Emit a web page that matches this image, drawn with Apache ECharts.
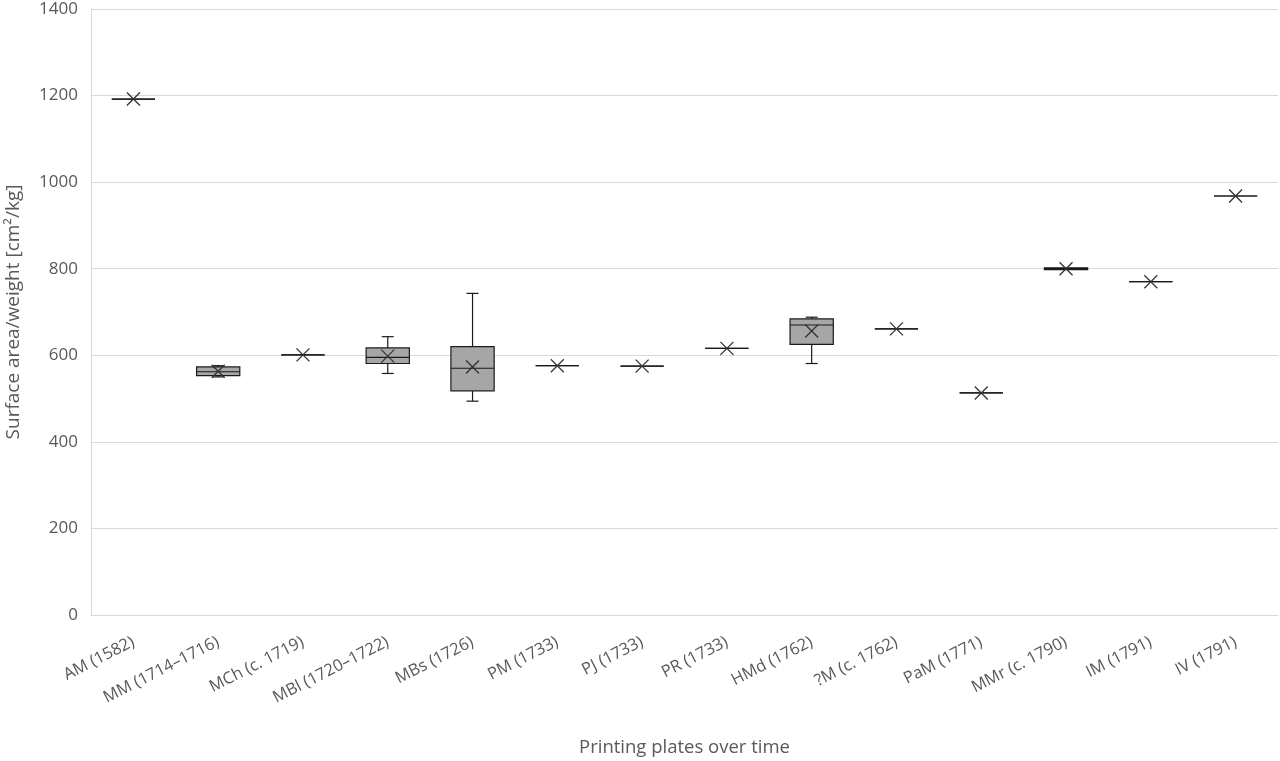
<!DOCTYPE html>
<html>
<head>
<meta charset="utf-8">
<script src="https://cdn.jsdelivr.net/npm/echarts@6/dist/echarts.min.js"></script>
<style>html,body{margin:0;padding:0;background:#fff}#c{width:1280px;height:761px}</style>
</head>
<body>
<div id="c"></div>
<script>
const categories = ['AM (1582)','MM (1714–1716)','MCh (c. 1719)','MBl (1720–1722)','MBs (1726)','PM (1733)','PJ (1733)','PR (1733)','HMd (1762)','?M (c. 1762)','PaM (1771)','MMr (c. 1790)','IM (1791)','IV (1791)'];
const mins    = [1192, 550, 601, 558, 494, 576, 575, 616, 581, 661, 513, 798, 770, 968];
const q1s     = [1192, 553, 601, 581, 518, 576, 575, 616, 625, 661, 513, 798, 770, 968];
const medians = [1192, 562, 601, 595, 570, 576, 575, 616, 670, 661, 513, 800, 770, 968];
const q3s     = [1192, 573, 601, 617, 620, 576, 575, 616, 684, 661, 513, 802, 770, 968];
const maxs    = [1192, 576, 601, 643, 743, 576, 575, 616, 688, 661, 513, 802, 770, 968];
const means   = [1192, 563, 601, 598, 573, 576, 575, 616, 656, 661, 513, 800, 770, 968];
const yTicks  = {min: 0, max: 1400, interval: 200};

const data = categories.map((c, i) => [i, mins[i], q1s[i], medians[i], q3s[i], maxs[i], means[i]]);
const font = '"Open Sans", "Liberation Sans", sans-serif';
const textColor = '#595959';

function renderItem(params, api) {
  const idx = api.value(0);
  const bw = api.size([1, 0])[0] * 0.51;
  const half = bw / 2;
  const cap = 6;
  const p = k => api.coord([idx, api.value(k)]);
  const pMin = p(1), pQ1 = p(2), pMed = p(3), pQ3 = p(4), pMax = p(5), pMean = p(6);
  const x = pMed[0];
  const lineStyle = {stroke: '#1a1a1a', lineWidth: 1.2};
  const children = [];
  if (pMax[1] < pQ3[1] - 0.5) {
    children.push({type: 'line', shape: {x1: x, y1: pQ3[1], x2: x, y2: pMax[1]}, style: lineStyle});
    children.push({type: 'line', shape: {x1: x - cap, y1: pMax[1], x2: x + cap, y2: pMax[1]}, style: lineStyle});
  }
  if (pMin[1] > pQ1[1] + 0.5) {
    children.push({type: 'line', shape: {x1: x, y1: pQ1[1], x2: x, y2: pMin[1]}, style: lineStyle});
    children.push({type: 'line', shape: {x1: x - cap, y1: pMin[1], x2: x + cap, y2: pMin[1]}, style: lineStyle});
  }
  children.push({type: 'rect', shape: {x: x - half, y: pQ3[1], width: bw, height: Math.max(0, pQ1[1] - pQ3[1])},
    style: {fill: '#a6a6a6', stroke: '#1a1a1a', lineWidth: 1.2}});
  children.push({type: 'line', shape: {x1: x - half, y1: pMed[1], x2: x + half, y2: pMed[1]}, style: lineStyle});
  const s = 6.5;
  const xs = {stroke: '#333333', lineWidth: 1.3};
  children.push({type: 'line', shape: {x1: x - s, y1: pMean[1] - s, x2: x + s, y2: pMean[1] + s}, style: xs});
  children.push({type: 'line', shape: {x1: x - s, y1: pMean[1] + s, x2: x + s, y2: pMean[1] - s}, style: xs});
  return {type: 'group', children};
}

const chart = echarts.init(document.getElementById('c'), null, {renderer: 'canvas'});
chart.setOption({
  animation: false,
  backgroundColor: '#ffffff',
  grid: {left: 91, right: 2, top: 9, bottom: 146, outerBoundsMode: 'none', containLabel: false},
  xAxis: {
    type: 'category',
    data: categories,
    name: 'Printing plates over time',
    nameLocation: 'middle',
    nameGap: 123,
    nameTextStyle: {color: textColor, fontSize: 18.5, fontFamily: font},
    axisLine: {show: true, lineStyle: {color: '#d9d9d9'}},
    axisTick: {show: false},
    axisLabel: {rotate: 27, color: textColor, fontSize: 16.5, fontFamily: font, margin: 26, interval: 0},
    splitLine: {show: false}
  },
  yAxis: {
    type: 'value',
    min: yTicks.min, max: yTicks.max, interval: yTicks.interval,
    name: 'Surface area/weight [cm²/kg]',
    nameLocation: 'middle',
    nameGap: 68,
    nameTextStyle: {color: textColor, fontSize: 19, fontFamily: font},
    axisLine: {show: true, lineStyle: {color: '#d9d9d9'}},
    axisTick: {show: false},
    axisLabel: {color: textColor, fontSize: 17, fontFamily: font, margin: 13, formatter: v => String(v)},
    splitLine: {show: true, lineStyle: {color: '#d9d9d9', width: 1}}
  },
  series: [{
    type: 'custom',
    renderItem: renderItem,
    encode: {x: 0, y: [1, 2, 3, 4, 5, 6]},
    data: data
  }]
});
</script>
</body>
</html>
